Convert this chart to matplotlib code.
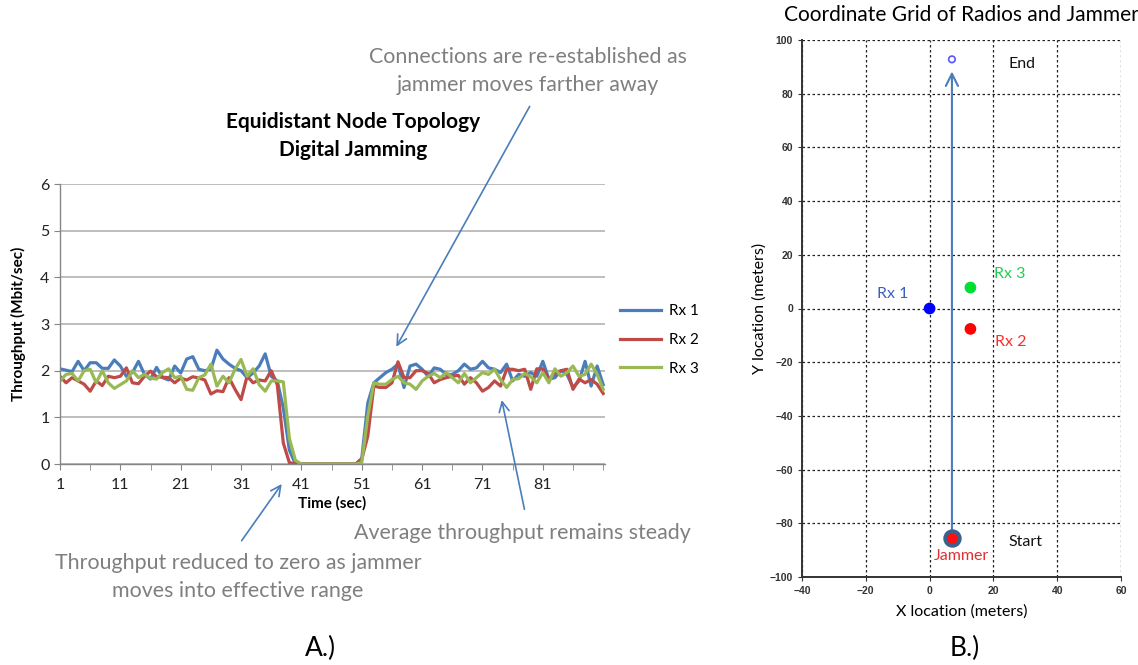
import numpy as np
from matplotlib import pyplot as plt

plt.rcParams['font.family'] = ['Lato', 'DejaVu Sans']

# throughput per second for each receiver (Mbit/sec)
time_sec = np.arange(1, 92)
rx1 = [2.04, 2.01, 1.98, 2.20, 2.00, 2.17, 2.17, 2.05, 2.05, 2.23,
       2.10, 1.88, 1.96, 2.20, 1.92, 1.82, 2.07, 1.85, 1.80, 2.10,
       1.95, 2.25, 2.30, 2.03, 2.00, 2.03, 2.44, 2.25, 2.14, 2.05,
       2.00, 1.85, 1.95, 2.10, 2.36, 1.88, 1.78, 1.20, 0.30, 0.00,
       0.00, 0.00, 0.00, 0.00, 0.00, 0.00, 0.00, 0.00, 0.00, 0.00,
       0.12, 1.31, 1.74, 1.85, 1.96, 2.03, 2.14, 1.64, 2.10, 2.14,
       2.03, 1.88, 2.06, 2.03, 1.92, 1.92, 2.00, 2.14, 2.03, 2.06,
       2.20, 2.06, 2.03, 1.96, 2.14, 1.78, 1.92, 1.88, 1.96, 1.88,
       2.20, 1.82, 1.85, 2.00, 1.92, 1.64, 1.78, 2.20, 1.67, 2.10, 1.70]
rx2 = [1.88, 1.74, 1.85, 1.78, 1.71, 1.56, 1.78, 1.68, 1.88, 1.85,
       1.88, 2.06, 1.74, 1.72, 1.88, 1.99, 1.87, 1.86, 1.85, 1.74,
       1.84, 1.80, 1.87, 1.84, 1.80, 1.50, 1.57, 1.55, 1.85, 1.60,
       1.38, 1.88, 1.74, 1.80, 1.78, 2.00, 1.70, 0.45, 0.03, 0.00,
       0.00, 0.00, 0.00, 0.00, 0.00, 0.00, 0.00, 0.00, 0.00, 0.00,
       0.10, 0.60, 1.67, 1.64, 1.64, 1.74, 2.19, 1.85, 1.85, 2.00,
       2.00, 1.94, 1.74, 1.81, 1.85, 1.88, 1.90, 1.71, 1.85, 1.74,
       1.56, 1.64, 1.78, 1.67, 2.03, 2.03, 2.00, 2.03, 1.60, 2.04,
       2.04, 1.82, 1.94, 2.00, 2.03, 1.60, 1.82, 1.74, 1.81, 1.71, 1.51]
rx3 = [1.78, 1.92, 1.94, 1.78, 2.00, 2.03, 1.74, 2.00, 1.74, 1.62,
       1.70, 1.78, 2.00, 1.85, 1.92, 1.84, 1.82, 1.96, 2.04, 1.85,
       1.88, 1.60, 1.58, 1.85, 1.91, 2.14, 1.67, 1.88, 1.74, 2.03,
       2.24, 1.88, 2.04, 1.70, 1.56, 1.78, 1.78, 1.76, 0.55, 0.08,
       0.00, 0.00, 0.00, 0.00, 0.00, 0.00, 0.00, 0.00, 0.00, 0.00,
       0.03, 1.03, 1.74, 1.71, 1.71, 1.81, 1.88, 1.74, 1.71, 1.60,
       1.78, 1.88, 1.94, 1.85, 1.96, 1.85, 1.74, 1.94, 1.74, 1.85,
       1.96, 1.92, 2.03, 1.81, 1.64, 1.81, 1.83, 1.94, 1.87, 1.74,
       1.96, 1.74, 2.04, 1.88, 1.96, 2.10, 1.88, 1.92, 2.14, 1.92, 1.60]
series_labels = ['Rx 1', 'Rx 2', 'Rx 3']
series_colors = ['#4a7ebb', '#be4b48', '#98b954']
time_labels = [1, 11, 21, 31, 41, 51, 61, 71, 81]

# node positions (meters)
rx_names = ['Rx 1', 'Rx 2', 'Rx 3']
rx_x = [0.0, 12.8, 12.8]
rx_y = [0.0, -7.6, 7.8]
rx_colors = ['#0000ff', '#ff0000', '#00dd33']
jammer_start = (7.0, -85.5)
jammer_end = (7.0, 92.8)

grey_text = '#7f7f7f'
arrow_blue = '#4a7ebb'
W, H = 1138, 665


def px_rect(left, top, right, bottom):
    return [left / W, 1 - bottom / H, (right - left) / W, (bottom - top) / H]


def fig_pt(x, y):
    return (x / W, 1 - y / H)


fig = plt.figure(figsize=(W / 100, H / 100), dpi=100)

# ---- A.) throughput over time ----
ax = fig.add_axes(px_rect(60, 184, 605, 464))
for vals, lab, col in zip([rx1, rx2, rx3], series_labels, series_colors):
    ax.plot(time_sec, vals, color=col, linewidth=2.3, label=lab)
ax.set_xlim(1, 91.3)
ax.set_ylim(0, 6)
ax.set_yticks(range(7))
ax.set_xticks(time_labels)
ax.set_xticks(np.arange(1, 92, 5), minor=True)
ax.grid(axis='y', color='#b3b3b3', linewidth=1.2)
ax.set_axisbelow(True)
for side in ['top', 'right']:
    ax.spines[side].set_visible(False)
for side in ['left', 'bottom']:
    ax.spines[side].set_color('#868686')
    ax.spines[side].set_linewidth(1.0)
ax.tick_params(axis='both', which='both', color='#868686', labelsize=11.5,
               labelcolor='#222222', length=4)
ax.tick_params(axis='x', which='major', pad=6)
ax.set_ylabel('Throughput (Mbit/sec)', fontsize=11, fontweight='bold', labelpad=10)
ax.set_xlabel('Time (sec)', fontsize=11, fontweight='bold', labelpad=3)
ax.legend(loc='center left', bbox_to_anchor=fig_pt(606, 340), bbox_transform=fig.transFigure,
          frameon=False, fontsize=11, handlelength=2.7, labelspacing=0.95, handletextpad=0.5)

fig.text(*fig_pt(353, 136), 'Equidistant Node Topology\nDigital Jamming', ha='center', va='center',
         fontsize=15, fontweight='bold', linespacing=1.55)

arrow_kw = dict(arrowstyle='->', color=arrow_blue, lw=1.2, mutation_scale=18)
ax.annotate('', xy=(56.5, 2.46), xytext=fig_pt(531, 104), textcoords='figure fraction',
            arrowprops=arrow_kw, annotation_clip=False)
ax.annotate('', xy=(38.0, -0.38), xytext=fig_pt(240, 543), textcoords='figure fraction',
            arrowprops=arrow_kw, annotation_clip=False)
ax.annotate('', xy=(74.1, 1.43), xytext=fig_pt(525, 512), textcoords='figure fraction',
            arrowprops=arrow_kw, annotation_clip=False)

note_kw = dict(ha='center', va='center', fontsize=15.4, color=grey_text, linespacing=1.5)
fig.text(*fig_pt(528, 71), 'Connections are re-established as\njammer moves farther away', **note_kw)
fig.text(*fig_pt(522, 533), 'Average throughput remains steady', **note_kw)
fig.text(*fig_pt(238, 577), 'Throughput reduced to zero as jammer\nmoves into effective range', **note_kw)
fig.text(*fig_pt(320, 648), 'A.)', ha='center', va='center', fontsize=19)

# ---- B.) node coordinates ----
bx = fig.add_axes(px_rect(802, 40, 1121, 577))
bx.set_xlim(-40, 60)
bx.set_ylim(-100, 100)
bx.set_xticks(range(-40, 61, 20))
bx.set_yticks(range(-100, 101, 20))
bx.grid(True, color='#202020', linestyle=(0, (2, 2)), linewidth=0.9)
bx.set_axisbelow(True)
for side in ['top', 'right']:
    bx.spines[side].set_visible(False)
for side in ['left', 'bottom']:
    bx.spines[side].set_color('#333333')
    bx.spines[side].set_linewidth(1.4)
bx.tick_params(axis='both', length=3, color='#333333', labelsize=7.5, labelcolor='#333333')
for lbl in bx.get_xticklabels() + bx.get_yticklabels():
    lbl.set_family('Liberation Sans')
    lbl.set_fontweight('bold')
bx.set_xlabel('X location (meters)', fontsize=11.5, labelpad=6)
bx.set_ylabel('Y location (meters)', fontsize=11.5, labelpad=2)
bx.set_title('Coordinate Grid of Radios and Jammer', fontsize=15, pad=14)

bx.annotate('', xy=(jammer_end[0], jammer_end[1] - 4.5), xytext=jammer_start,
            arrowprops=dict(arrowstyle='->', color=arrow_blue, lw=1.5, mutation_scale=22,
                            shrinkA=0, shrinkB=0))
bx.scatter(rx_x, rx_y, s=55, c=rx_colors, zorder=3)
bx.scatter([jammer_start[0]], [jammer_start[1]], s=150, c='#3d5f8c', zorder=3)
bx.scatter([jammer_start[0]], [jammer_start[1]], s=45, c='#ff1010', zorder=4)
bx.scatter([jammer_end[0]], [jammer_end[1]], s=22, facecolors='none', edgecolors='#5555ff',
           linewidths=1.2, zorder=4)

label_kw = dict(fontsize=11.5, ha='center', va='center')
bx.text(-11.5, 5.5, 'Rx 1', color='#3a5fc0', **label_kw)
bx.text(25, 13, 'Rx 3', color='#22cc55', **label_kw)
bx.text(25.5, -12.5, 'Rx 2', color='#ff2a2a', **label_kw)
bx.text(10, -92, 'Jammer', color='#e03030', **label_kw)
bx.text(30, -87, 'Start', color='#111111', **label_kw)
bx.text(29, 91, 'End', color='#111111', **label_kw)
fig.text(*fig_pt(965, 648), 'B.)', ha='center', va='center', fontsize=19)

fig.savefig('out.png', dpi=100)
